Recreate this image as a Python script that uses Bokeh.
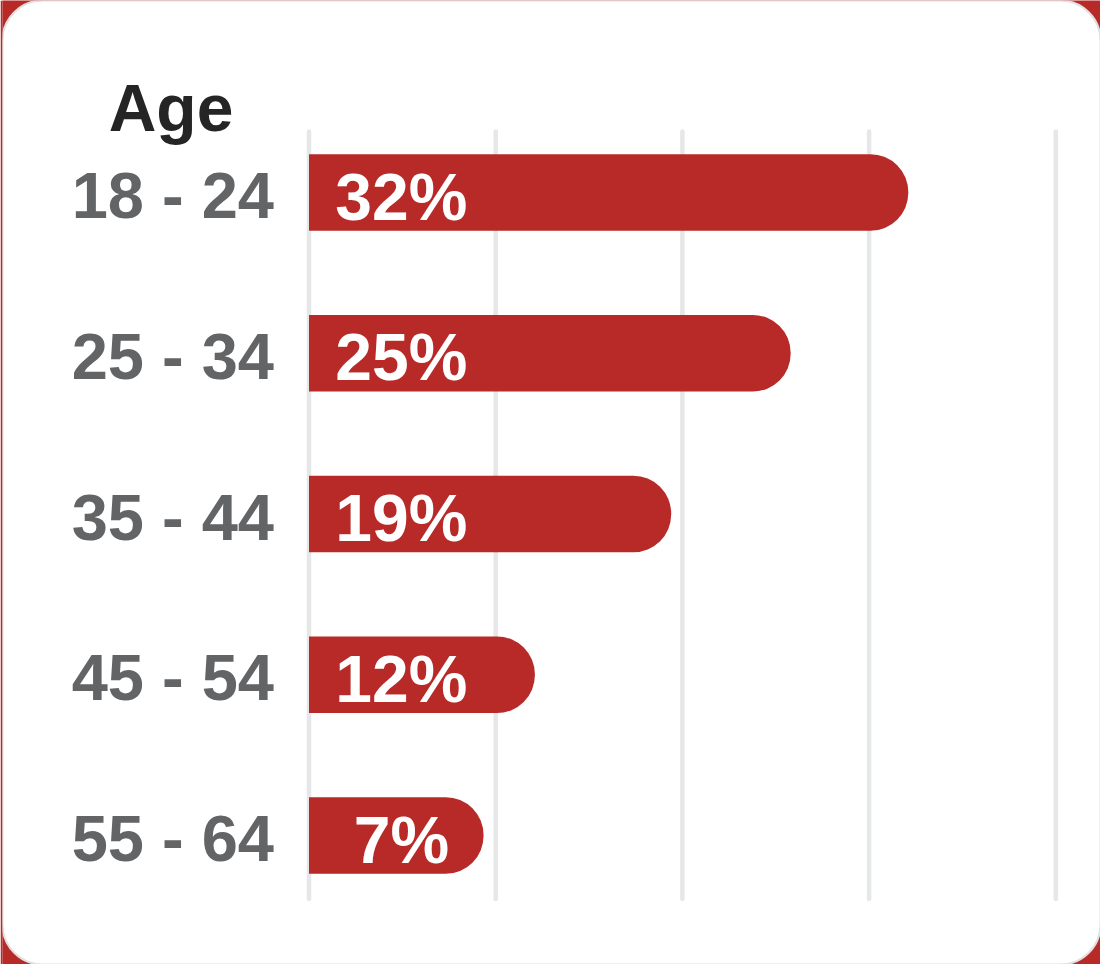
import numpy as np
from bokeh.plotting import figure
from bokeh.models import Range1d, ColumnDataSource, BoxAnnotation
from bokeh.core.properties import value
from bokeh.embed import file_html
from bokeh.resources import INLINE

# ---- data ----
age_groups = ["18 - 24", "25 - 34", "35 - 44", "45 - 54", "55 - 64"]
share_labels = [32, 25, 19, 12, 7]                 # printed percentages
bar_lengths = [32.1, 25.8, 19.4, 12.1, 9.35]       # drawn bar ends on the % scale
grid_ticks = [0, 10, 20, 30, 40]
axis_title = "Age"

# ---- styles ----
RED = "#B72A27"
GRID = "#E6E7E8"
LABEL_GREY = "#636466"
TITLE_DARK = "#252525"
FONT = value("Liberation Sans")

# ---- layout (pixels) ----
W, H = 1100, 964
FRAME_LEFT = 2
frame_w = W - FRAME_LEFT
px_per_x = 18.67
zero_px = 306.5
px_per_row = 160.75
first_row_px = 192.0

rows = list(range(len(age_groups)))

p = figure(width=W, height=H, output_backend="svg", toolbar_location=None,
           x_range=Range1d(-zero_px / px_per_x, (frame_w - zero_px) / px_per_x),
           y_range=Range1d((H - first_row_px) / px_per_row, -first_row_px / px_per_row),
           x_axis_location=None, y_axis_location=None,
           min_border_left=FRAME_LEFT, min_border_right=0,
           min_border_top=0, min_border_bottom=0)
p.grid.visible = False
p.outline_line_color = None
p.background_fill_color = RED
p.border_fill_color = RED

card = BoxAnnotation(fill_color="white", fill_alpha=1.0, line_color="#E0E0E0",
                     line_alpha=1.0, line_width=2, border_radius=40, level="underlay")
p.add_layout(card)

# vertical grid lines
grid_top = rows[0] - 0.38
grid_bottom = rows[-1] + 0.395
p.segment(x0=grid_ticks, y0=[grid_top] * len(grid_ticks),
          x1=grid_ticks, y1=[grid_bottom] * len(grid_ticks),
          line_color=GRID, line_width=4.5, line_cap="round")

src = ColumnDataSource(dict(
    row=rows,
    group=age_groups,
    length=bar_lengths,
    label=[f"{v}%" for v in share_labels],
    label_x=[4.95] * len(rows),
    zero=[0] * len(rows),
))

p.hbar(y="row", left="zero", right="length", height=0.477, source=src,
       fill_color=RED, line_color=None, border_radius=(0, 38, 38, 0))

p.text(x="label_x", y="row", text="label", source=src,
       text_align="center", text_baseline="alphabetic", y_offset=4,
       text_color="white", text_font=FONT, text_font_style="bold",
       text_font_size="66px")

p.text(x="zero", y="row", text="group", source=src,
       text_align="right", text_baseline="alphabetic", x_offset=-35, y_offset=3,
       text_color=LABEL_GREY, text_font=FONT, text_font_style="bold",
       text_font_size="65px")

p.text(x=[0], y=[rows[0]], text=[axis_title],
       text_align="center", text_baseline="alphabetic", x_offset=-138, y_offset=-84.5,
       text_color=TITLE_DARK, text_font=FONT, text_font_style="bold",
       text_font_size="66px")

open("out.html", "w").write(file_html(p, INLINE))
